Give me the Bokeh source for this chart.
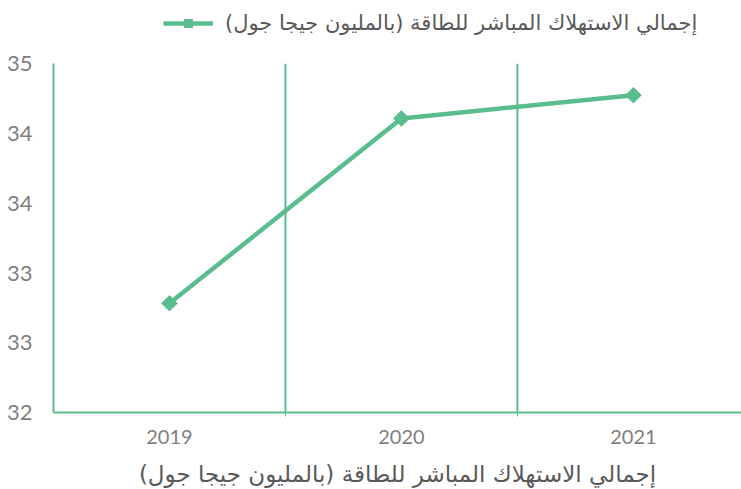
import math
from bokeh.plotting import figure
from bokeh.models import (Range1d, FixedTicker, Legend, LegendItem, ColumnDataSource)
from bokeh.embed import file_html
from bokeh.resources import INLINE

# ---- data ----
years = ["2019", "2020", "2021"]
consumption = [32.94, 34.53, 34.73]
y_ticks = [32.0, 32.6, 33.2, 33.8, 34.4, 35.0]
y_tick_labels = ["32", "33", "33", "34", "34", "35"]
series_name = "إجمالي الاستهلاك المباشر للطاقة (بالمليون جيجا جول)"
axis_title = "إجمالي الاستهلاك المباشر للطاقة (بالمليون جيجا جول)"

GREEN = "#59bd8e"
Y_MIN, Y_MAX = y_ticks[0], y_ticks[-1]
HEADROOM = 0.545  # space above the axis for the legend
x_pos = [i + 0.5 for i in range(len(years))]
src = ColumnDataSource(dict(x=x_pos, y=consumption))

p = figure(width=741, height=489, output_backend="svg", toolbar_location=None,
           x_range=Range1d(0, 2.966), y_range=Range1d(Y_MIN, Y_MAX + HEADROOM),
           min_border_right=0, min_border_left=53, min_border_top=0,
           min_border_bottom=10)
p.outline_line_color = None
p.background_fill_color = "white"
p.xgrid.visible = False
p.ygrid.visible = False

# category separators (vertical lines between categories)
boundaries = [float(i) for i in range(1, len(years))]
sep = ColumnDataSource(dict(x=boundaries, y0=[Y_MIN] * len(boundaries),
                            y1=[Y_MAX] * len(boundaries)))
p.segment(x0="x", x1="x", y0="y0", y1="y1", source=sep, line_color=GREEN, line_width=2)

line_r = p.line("x", "y", source=src, line_color=GREEN, line_width=4.5)
mark_r = p.scatter("x", "y", source=src, marker="square", size=11, angle=math.pi / 4,
                   fill_color=GREEN, line_color=GREEN)

# x axis
xa = p.xaxis[0]
xa.ticker = FixedTicker(ticks=x_pos, minor_ticks=boundaries)
xa.major_label_overrides = {x: y for x, y in zip(x_pos, years)}
xa.major_tick_line_color = None
xa.minor_tick_line_color = GREEN
xa.minor_tick_out = 4
xa.minor_tick_in = 0
xa.axis_line_color = GREEN
xa.axis_line_width = 2
xa.major_label_text_font = "Lato"
xa.major_label_text_font_size = "20px"
xa.major_label_text_color = "#7f7f7f"
xa.major_label_standoff = 11
xa.axis_label = axis_title
xa.axis_label_text_font = "DejaVu Sans"
xa.axis_label_text_font_style = "normal"
xa.axis_label_text_font_size = "23px"
xa.axis_label_text_color = "#595959"
xa.axis_label_standoff = 14

# y axis
ya = p.yaxis[0]
ya.ticker = FixedTicker(ticks=y_ticks)
ya.bounds = (Y_MIN, Y_MAX)
ya.major_label_overrides = {t: l for t, l in zip(y_ticks, y_tick_labels)}
ya.major_tick_line_color = None
ya.minor_tick_line_color = None
ya.axis_line_color = GREEN
ya.axis_line_width = 2
ya.major_label_text_font = "Lato"
ya.major_label_text_font_size = "22px"
ya.major_label_text_color = "#7f7f7f"
ya.major_label_standoff = 15

legend = Legend(items=[LegendItem(label=series_name, renderers=[line_r, mark_r])],
                orientation="horizontal", location=(110, 377),
                border_line_color=None, background_fill_alpha=0,
                glyph_width=50, glyph_height=20, label_standoff=12,
                label_text_font="DejaVu Sans", label_text_font_size="21px",
                label_text_color="#595959", margin=0, padding=2)
p.add_layout(legend)

open("out.html", "w").write(file_html(p, INLINE))
